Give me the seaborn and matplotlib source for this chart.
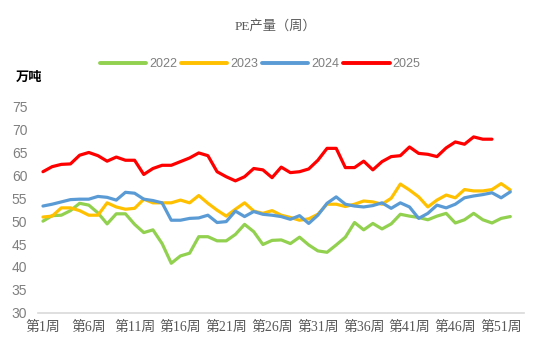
import matplotlib
matplotlib.use("Agg")
import matplotlib.pyplot as plt
import pandas as pd
import seaborn as sns

# 周产量（万吨），读自参考图
years = ["2022", "2023", "2024", "2025"]
colores = ["#92D050", "#FFC000", "#5B9BD5", "#FF0000"]

pe_2022 = [50.0, 51.2, 51.3, 52.3, 53.9, 53.5, 51.8, 49.4, 51.6, 51.6,
           49.3, 47.5, 48.1, 45.1, 40.8, 42.4, 43.0, 46.6, 46.6, 45.7,
           45.7, 47.1, 49.3, 47.7, 44.9, 45.8, 45.9, 45.1, 46.5, 44.8,
           43.5, 43.2, 44.8, 46.5, 49.7, 48.1, 49.5, 48.3, 49.4, 51.5,
           51.1, 50.8, 50.3, 51.1, 51.7, 49.6, 50.3, 51.7, 50.3, 49.6,
           50.6, 51.0]
pe_2023 = [50.9, 51.1, 52.9, 52.9, 52.3, 51.3, 51.3, 54.0, 53.1, 52.6,
           52.8, 54.8, 54.0, 54.0, 54.0, 54.6, 54.0, 55.6, 53.9, 52.4,
           51.1, 52.6, 54.0, 52.2, 51.7, 52.3, 51.3, 50.8, 50.2, 50.5,
           51.5, 53.7, 53.7, 53.2, 53.7, 54.4, 54.2, 53.7, 55.0, 58.1,
           56.8, 55.3, 53.1, 54.6, 55.7, 55.1, 56.9, 56.6, 56.6, 56.9,
           58.2, 56.8]
pe_2024 = [53.3, 53.7, 54.2, 54.7, 54.8, 54.8, 55.4, 55.2, 54.6, 56.3,
           56.1, 54.8, 54.5, 54.0, 50.2, 50.2, 50.6, 50.7, 51.3, 49.7,
           49.9, 52.2, 51.0, 52.1, 51.5, 51.3, 51.0, 50.4, 51.2, 49.5,
           51.3, 53.9, 55.3, 53.7, 53.3, 53.1, 53.4, 54.0, 52.8, 54.0,
           53.1, 50.6, 51.7, 53.5, 52.9, 53.7, 55.1, 55.5, 55.8, 56.2,
           55.1, 56.4]
pe_2025 = [60.8, 61.9, 62.4, 62.5, 64.4, 65.0, 64.3, 63.1, 64.0, 63.3,
           63.3, 60.2, 61.5, 62.2, 62.2, 63.0, 63.8, 64.9, 64.3, 60.8,
           59.7, 58.8, 59.7, 61.5, 61.2, 59.5, 61.8, 60.6, 60.8, 61.4,
           63.3, 65.9, 65.9, 61.7, 61.7, 63.1, 61.2, 63.0, 64.1, 64.3,
           66.2, 64.8, 64.6, 64.1, 66.0, 67.3, 66.8, 68.4, 67.9, 67.9]

tick_weeks = [1, 6, 11, 16, 21, 26, 31, 36, 41, 46, 51]
tick_labels = ["第1周", "第6周", "第11周", "第16周", "第21周", "第26周",
               "第31周", "第36周", "第41周", "第46周", "第51周"]
y_ticks = [30, 35, 40, 45, 50, 55, 60, 65, 70, 75]

# tabla larga para seaborn
filas = []
for year, serie in zip(years, [pe_2022, pe_2023, pe_2024, pe_2025]):
    for i, v in enumerate(serie):
        filas.append({"week": i + 1, "value": v, "year": year})
df = pd.DataFrame(filas)

sns.set_style("white")
plt.rcParams["font.family"] = ["Noto Sans CJK SC", "DejaVu Sans"]
serif_cjk = ["Liberation Serif", "Noto Sans CJK SC"]

fig = plt.figure(figsize=(5.5, 3.56), dpi=100)
ax = fig.add_axes([0.0698, 0.1216, 0.883, 0.5787])

sns.lineplot(data=df, x="week", y="value", hue="year", hue_order=years,
             palette=dict(zip(years, colores)), linewidth=2.3, ax=ax)

ax.set_xlim(0.5, 53.5)
ax.set_ylim(30, 75)
ax.set_xticks(tick_weeks)
ax.set_xticklabels(tick_labels, fontsize=10, color="#595959", family=serif_cjk)
ax.set_yticks(y_ticks)
ax.set_yticklabels([str(t) for t in y_ticks], fontsize=10, color="#7f7f7f",
                   family=["Liberation Sans"])
ax.tick_params(length=0, axis="x", pad=6)
ax.tick_params(length=0, axis="y", pad=8)
ax.set_xlabel("")
ax.set_ylabel("")
for lado in ["left", "top", "right"]:
    ax.spines[lado].set_visible(False)
ax.spines["bottom"].set_color("#d9d9d9")
ax.spines["bottom"].set_linewidth(1.2)

handles, labels = ax.get_legend_handles_labels()
ax.get_legend().remove()
leg = fig.legend(handles, labels, loc="center", bbox_to_anchor=(0.473, 0.82),
                 ncol=4, frameon=False, handlelength=3.7, handletextpad=0.24,
                 columnspacing=0.32, prop={"family": ["Liberation Sans"], "size": 9})
for t in leg.get_texts():
    t.set_color("#7f7f7f")
for h in leg.get_lines():
    h.set_linewidth(2.8)

fig.text(0.5, 1 - 26 / 356, "PE产量（周）", ha="center", va="center",
         fontsize=9.5, color="#595959", family=serif_cjk)
fig.text(29 / 550, 1 - 77 / 356, "万吨", ha="center", va="center",
         fontsize=9.5, fontweight="bold", color="black")

fig.savefig("out.png", dpi=100)
plt.close(fig)
